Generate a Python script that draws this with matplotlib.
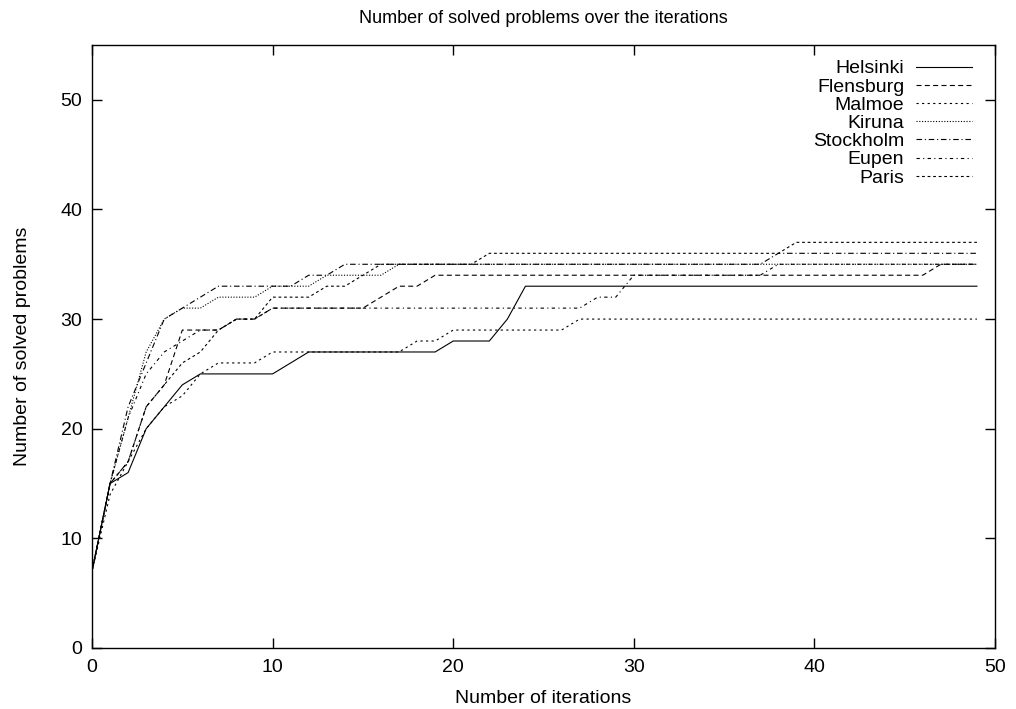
import matplotlib
matplotlib.use("Agg")
import matplotlib.pyplot as plt

plt.rcParams["font.family"] = ["Liberation Sans", "DejaVu Sans"]

iterations = list(range(50))

helsinki = [7, 15, 16, 20, 22, 24, 25, 25, 25, 25, 25, 26, 27, 27, 27, 27, 27, 27, 27, 27,
            28, 28, 28, 30, 33] + [33] * 25
flensburg = [7, 15, 17, 22, 24, 29, 29, 29, 30, 30, 31, 31, 31, 31, 31, 31, 32, 33, 33, 34] \
            + [34] * 27 + [35, 35, 35]
malmoe = [7, 14, 17, 20, 22, 23, 25, 26, 26, 26, 27, 27, 27, 27, 27, 27, 27, 27, 28, 28,
          29, 29, 29, 29, 29, 29, 29] + [30] * 23
kiruna = [7, 15, 21, 27, 30, 31, 31, 32, 32, 32, 33, 33, 33, 34, 34, 34, 34] + [35] * 33
stockholm = [7, 15, 22, 26, 30, 31, 32, 33, 33, 33, 33, 33, 34, 34] + [35] * 24 + [36] * 12
eupen = [7, 15, 21, 25, 27, 28, 29, 29, 30, 30] + [31] * 18 + [32, 32] + [34] * 8 + [35] * 12
paris = [7, 15, 17, 22, 24, 26, 27, 29, 30, 30, 32, 32, 32, 33, 33, 34] + [35] * 6 \
        + [36] * 17 + [37] * 11

series = [
    ("Helsinki", helsinki, "-"),
    ("Flensburg", flensburg, (0, (4.5, 3))),
    ("Malmoe", malmoe, (0, (2, 3))),
    ("Kiruna", kiruna, (0, (1, 1.5))),
    ("Stockholm", stockholm, (0, (5, 2.5, 1, 2.5))),
    ("Eupen", eupen, (0, (3, 3, 1, 3))),
    ("Paris", paris, (0, (2.5, 2.5))),
]

fig = plt.figure(figsize=(10.16, 7.09), dpi=100)
ax = fig.add_axes([92 / 1016, 1 - 648 / 709, (995 - 92) / 1016, (648 - 45) / 709])

for name, vals, ls in series:
    ax.plot(iterations, vals, color="black", linewidth=0.8, linestyle=ls, label=name)

ax.set_xlim(0, 50)
ax.set_ylim(0, 55)
ax.set_xticks(range(0, 51, 10))
ax.set_yticks(range(0, 51, 10))
ax.tick_params(direction="in", length=7, width=1, top=True, right=True, labelsize=14)
ax.tick_params(axis="x", pad=8)
ax.tick_params(axis="y", pad=7)
for s in ax.spines.values():
    s.set_linewidth(1)

ax.set_title("Number of solved problems over the iterations", fontsize=13, pad=16)
ax.set_xlabel("Number of iterations", fontsize=14, labelpad=10)
ax.set_ylabel("Number of solved problems", fontsize=14, labelpad=21)

ax.legend(loc="upper right", frameon=False, markerfirst=False, fontsize=14,
          handlelength=2.9, handletextpad=0.6, labelspacing=0.03,
          borderaxespad=0.0, bbox_to_anchor=(1 - 15 / 903, 1 - 7 / 603))

fig.savefig("out.png", dpi=100)
